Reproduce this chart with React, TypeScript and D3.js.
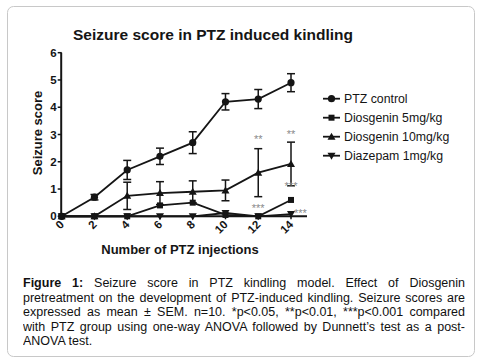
import * as d3 from "d3";

const injections = [0, 2, 4, 6, 8, 10, 12, 14];
const ptzControl = [0, 0.7, 1.7, 2.2, 2.7, 4.2, 4.3, 4.9];
const ptzControlSem = [0, 0.1, 0.35, 0.3, 0.4, 0.3, 0.35, 0.33];
const dios5 = [0, 0, 0, 0.4, 0.5, 0.05, 0, 0.6];
const dios5Sem = [0, 0, 0, 0, 0, 0, 0, 0];
const dios10 = [0, 0, 0.75, 0.85, 0.9, 0.95, 1.6, 1.92];
const dios10Sem = [0, 0, 0.5, 0.42, 0.4, 0.38, 0.88, 0.8];
const diazepam = [0, 0, 0, 0, 0, 0.12, 0, 0.08];
const diazepamSem = [0, 0, 0, 0, 0, 0, 0, 0];
const yTicks = [0, 1, 2, 3, 4, 5, 6];
const seriesNames = ["PTZ  control", "Diosgenin 5mg/kg", "Diosgenin 10mg/kg", "Diazepam 1mg/kg"];
// significance marks: [x, y, text]
const stars: [number, number, string][] = [
  [12, 2.68, "**"],
  [14, 2.88, "**"],
  [14, 0.98, "***"],
  [12, 0.14, "***"],
];
const captionLines = [
  "Seizure score in PTZ kindling model. Effect of Diosgenin",
  "pretreatment on the development of PTZ-induced kindling. Seizure scores are",
  "expressed as mean ± SEM. n=10. *p<0.05, **p<0.01, ***p<0.001 compared",
  "with PTZ group using one-way ANOVA followed by Dunnett’s test as a post-",
  "ANOVA test.",
];

const ink = "#151515";

function Marker({ kind, cx, cy }: { kind: string; cx: number; cy: number }) {
  if (kind === "circle") return <circle cx={cx} cy={cy} r={3.6} fill={ink} />;
  if (kind === "square") return <rect x={cx - 3} y={cy - 3} width={6} height={6} fill={ink} />;
  if (kind === "up")
    return <path d={`M${cx},${cy - 4}L${cx + 4},${cy + 3}L${cx - 4},${cy + 3}Z`} fill={ink} />;
  return <path d={`M${cx},${cy + 4}L${cx + 4},${cy - 3}L${cx - 4},${cy - 3}Z`} fill={ink} />;
}

export default function App() {
  const x = d3.scaleLinear().domain([0, 14]).range([61.7, 291]);
  const y = d3.scaleLinear().domain([0, 6]).range([216.3, 52.7]);
  const line = d3
    .line<number>()
    .x((_, i) => x(injections[i]))
    .y((d) => y(d));

  const series = [
    { vals: ptzControl, sem: ptzControlSem, kind: "circle" },
    { vals: dios5, sem: dios5Sem, kind: "square" },
    { vals: dios10, sem: dios10Sem, kind: "up" },
    { vals: diazepam, sem: diazepamSem, kind: "down" },
  ];

  return (
    <svg
      width={485}
      height={363}
      style={{ position: "absolute", left: 0, top: 0, background: "#fff" }}
      fontFamily="Arial, 'Liberation Sans', sans-serif"
    >
      <rect x={7.5} y={6.5} width={467} height={350} rx={6} fill="#fff" stroke="#c8c8c8" />

      <text x={213} y={40} textAnchor="middle" fontSize={15.5} fontWeight="bold" fill={ink}>
        Seizure score in PTZ induced kindling
      </text>

      {/* y axis */}
      <line x1={x(0) - 0.5} x2={x(0) - 0.5} y1={y(0)} y2={y(6)} stroke={ink} strokeWidth={2} />
      {yTicks.map((t) => (
        <g key={t}>
          <line x1={x(0) - 4} x2={x(0)} y1={y(t)} y2={y(t)} stroke={ink} strokeWidth={1.5} />
          <text x={x(0) - 5} y={y(t) + 4} textAnchor="end" fontSize={11.5} fontWeight="bold" fill={ink}>
            {t}
          </text>
        </g>
      ))}
      <text
        transform={`translate(42,133) rotate(-90)`}
        textAnchor="middle"
        fontSize={13}
        fontWeight="bold"
        fill={ink}
      >
        Seizure score
      </text>

      {/* x axis */}
      <line x1={x(0) - 1.5} x2={307} y1={y(0)} y2={y(0)} stroke={ink} strokeWidth={2} />
      {injections.map((t) => (
        <g key={t}>
          <line x1={x(t)} x2={x(t)} y1={y(0)} y2={y(0) + 3} stroke={ink} strokeWidth={1.5} />
          <text
            transform={`translate(${x(t) + 3},${y(0) + 9}) rotate(-45)`}
            textAnchor="end"
            fontSize={11.5}
            fontWeight="bold"
            fill={ink}
          >
            {t}
          </text>
        </g>
      ))}
      <text x={180} y={254} textAnchor="middle" fontSize={13} fontWeight="bold" fill={ink}>
        Number of PTZ injections
      </text>

      {/* series */}
      {series.map((s, si) => (
        <g key={si}>
          <path d={line(s.vals) ?? ""} fill="none" stroke={ink} strokeWidth={1.8} />
          {s.vals.map((v, i) =>
            s.sem[i] > 0 ? (
              <g key={i} stroke={ink} strokeWidth={1.5}>
                <line x1={x(injections[i])} x2={x(injections[i])} y1={y(v - s.sem[i])} y2={y(v + s.sem[i])} />
                <line x1={x(injections[i]) - 4} x2={x(injections[i]) + 4} y1={y(v - s.sem[i])} y2={y(v - s.sem[i])} />
                <line x1={x(injections[i]) - 4} x2={x(injections[i]) + 4} y1={y(v + s.sem[i])} y2={y(v + s.sem[i])} />
              </g>
            ) : null
          )}
          {s.vals.map((v, i) => (
            <Marker key={i} kind={s.kind} cx={x(injections[i])} cy={y(v)} />
          ))}
        </g>
      ))}

      {/* significance */}
      {stars.map(([sx, sy, t], i) => (
        <text key={i} x={x(sx)} y={y(sy)} textAnchor="middle" fontSize={11} fill="#8a8a8a">
          {t}
        </text>
      ))}
      <text x={x(14) + 3} y={y(0) + 1} fontSize={11} fill="#8a8a8a">
        ***
      </text>

      {/* legend */}
      {seriesNames.map((n, i) => {
        const ly = 98.7 + i * 19;
        return (
          <g key={n}>
            <line x1={323} x2={340} y1={ly} y2={ly} stroke={ink} strokeWidth={1.8} />
            <Marker kind={series[i].kind} cx={331.5} cy={ly} />
            <text x={344} y={ly + 4.5} fontSize={12.3} fill={ink}>
              {n}
            </text>
          </g>
        );
      })}

      {/* caption */}
      <foreignObject x={23} y={276} width={442} height={80}>
        <div
          style={{
            fontFamily: "Arial, 'Liberation Sans', sans-serif",
            fontSize: "12.5px",
            lineHeight: "14.6px",
            color: "#111",
          }}
        >
          {captionLines.map((l, i) => (
            <div
              key={i}
              style={{
                whiteSpace: "nowrap",
                textAlign: "justify",
                textAlignLast: i < captionLines.length - 1 ? "justify" : "left",
              }}
            >
              {i === 0 ? <b>Figure 1: </b> : null}
              {l}
            </div>
          ))}
        </div>
      </foreignObject>
    </svg>
  );
}
